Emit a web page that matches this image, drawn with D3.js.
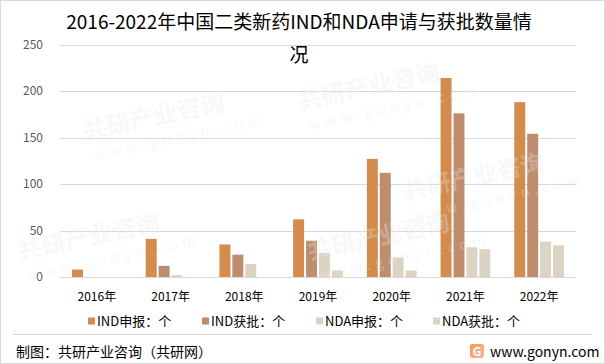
<!DOCTYPE html>
<html>
<head>
<meta charset="utf-8">
<script src="https://cdn.jsdelivr.net/npm/d3@7"></script>
<style>
  body { margin: 0; background: #fff; }
  svg { display: block; font-family: "Noto Sans CJK SC", "Noto Sans", sans-serif; }
</style>
</head>
<body>
<div class="svgcontainer"></div>
<script>
// chart data
const years = ["2016年", "2017年", "2018年", "2019年", "2020年", "2021年", "2022年"]
const seriesNames = ["IND申报：个", "IND获批：个", "NDA申报：个", "NDA获批：个"]
const indApply = [8, 41, 35, 62, 127, 214, 188]
const indApproved = [0, 12, 24, 39, 112, 176, 154]
const ndaApply = [0, 2, 14, 26, 21, 32, 38]
const ndaApproved = [0, 0, 0, 7, 7, 30, 34]
const yTicks = [0, 50, 100, 150, 200, 250]
const colors = ["#D38B4E", "#BD8D6D", "#DCD4C3", "#DCD4C3"]

const width = 605, height = 364
const plot = {left: 60, right: 576, top: 44.5, bottom: 277}

const svg = d3.select(".svgcontainer")
  .append("svg")
  .attr("width", width)
  .attr("height", height)

// outer border
svg.append("rect")
  .attr("x", 0.5).attr("y", 0.5)
  .attr("width", width - 1).attr("height", height - 1)
  .attr("fill", "none")
  .attr("stroke", "#d9d9d9")

// title
const title = svg.append("text")
  .attr("text-anchor", "middle")
  .attr("font-size", 19)
  .attr("fill", "#000")
title.append("tspan").attr("x", 299).attr("y", 29).text("2016-2022年中国二类新药IND和NDA申请与获批数量情")
title.append("tspan").attr("x", 299).attr("y", 62).text("况")

let x0 = d3.scaleBand()
  .domain(years)
  .range([plot.left, plot.right])

let x1 = d3.scaleBand()
  .domain(d3.range(seriesNames.length))
  .range([12, x0.bandwidth() - 12])
  .paddingInner(0.15)

let y = d3.scaleLinear()
  .domain([0, 250])
  .range([plot.bottom, plot.top])

// grid + y labels
svg.append("g")
  .selectAll("line")
  .data(yTicks)
  .join("line")
  .attr("x1", plot.left).attr("x2", plot.right)
  .attr("y1", d => Math.round(y(d)) + 0.5)
  .attr("y2", d => Math.round(y(d)) + 0.5)
  .attr("stroke", "#d9d9d9")

svg.append("g")
  .selectAll("text")
  .data(yTicks)
  .join("text")
  .attr("x", 43)
  .attr("y", d => y(d) + 4)
  .attr("text-anchor", "end")
  .attr("font-size", 12)
  .attr("fill", "#595959")
  .text(d => d)

// bars
let table = years.map((yr, i) => ({
  year: yr,
  values: [indApply[i], indApproved[i], ndaApply[i], ndaApproved[i]]
}))

let groups = svg.append("g")
  .selectAll("g")
  .data(table)
  .join("g")
  .attr("transform", d => `translate(${x0(d.year)},0)`)

groups.selectAll("rect")
  .data(d => d.values.map((v, k) => ({k: k, v: v})))
  .join("rect")
  .attr("x", d => x1(d.k))
  .attr("width", x1.bandwidth())
  .attr("y", d => y(d.v))
  .attr("height", d => plot.bottom - y(d.v))
  .attr("fill", d => colors[d.k])

// x labels
svg.append("g")
  .selectAll("text")
  .data(years)
  .join("text")
  .attr("x", d => x0(d) + x0.bandwidth() / 2)
  .attr("y", 301)
  .attr("text-anchor", "middle")
  .attr("font-size", 12)
  .attr("fill", "#000")
  .text(d => d)

// legend
const legendX = [88, 202, 316, 433]
let legend = svg.append("g")
  .selectAll("g")
  .data(seriesNames)
  .join("g")
  .attr("transform", (d, i) => `translate(${legendX[i]},321)`)
legend.append("rect")
  .attr("x", 0).attr("y", -3.5)
  .attr("width", 7).attr("height", 7)
  .attr("fill", (d, i) => colors[i])
legend.append("text")
  .attr("x", 9)
  .attr("y", 4.5)
  .attr("font-size", 13)
  .attr("fill", "#000")
  .text(d => d)

// separator
svg.append("line")
  .attr("x1", 13).attr("x2", 592)
  .attr("y1", 334.5).attr("y2", 334.5)
  .attr("stroke", "#d4d4d4")

// footer
svg.append("text")
  .attr("x", 16).attr("y", 357)
  .attr("font-size", 14)
  .attr("fill", "#000")
  .text("制图：共研产业咨询（共研网）")

const grad = svg.append("defs").append("linearGradient")
  .attr("id", "logoGrad")
  .attr("x1", "0").attr("y1", "0").attr("x2", "1").attr("y2", "1")
grad.append("stop").attr("offset", "0").attr("stop-color", "#F59A4A")
grad.append("stop").attr("offset", "1").attr("stop-color", "#F7B7A0")

let logo = svg.append("g").attr("transform", "translate(470,344)")
logo.append("rect")
  .attr("width", 14).attr("height", 14).attr("rx", 2)
  .attr("fill", "url(#logoGrad)")
logo.append("text")
  .attr("x", 7).attr("y", 11.5)
  .attr("text-anchor", "middle")
  .attr("font-size", 12)
  .attr("font-weight", "bold")
  .attr("fill", "#fff")
  .text("G")

svg.append("text")
  .attr("x", 490).attr("y", 357)
  .attr("font-size", 14)
  .attr("fill", "#000")
  .text("www.gonyn.com")

// watermarks (faint)
const marks = [[85, 140], [300, 110], [20, 260], [310, 260], [405, 200]]
let wm = svg.append("g")
  .attr("pointer-events", "none")
  .selectAll("g")
  .data(marks)
  .join("g")
  .attr("transform", d => `translate(${d[0]},${d[1]}) rotate(-12)`)
wm.append("text")
  .attr("font-size", 24)
  .attr("font-weight", "bold")
  .attr("fill", "#e9e9e9")
  .attr("opacity", 0.3)
  .text("共研产业咨询")
wm.append("text")
  .attr("x", 6).attr("y", 22)
  .attr("font-size", 14)
  .attr("letter-spacing", 5)
  .attr("fill", "#e9e9e9")
  .attr("opacity", 0.3)
  .text("www.gonyn.com")
</script>
</body>
</html>
